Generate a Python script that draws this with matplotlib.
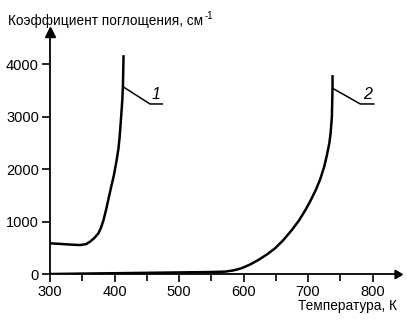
import matplotlib.pyplot as plt

plt.rcParams['font.family'] = ['Liberation Sans', 'DejaVu Sans']

# curve 1
t1 = [300, 320, 335, 347, 356, 362, 369, 375, 379, 383, 387, 391, 395, 399, 403, 406, 408, 410, 412, 413, 414]
k1 = [585, 570, 558, 552, 570, 615, 690, 775, 880, 1030, 1230, 1450, 1670, 1880, 2150, 2380, 2620, 2950, 3300, 3570, 4170]
# curve 2
t2 = [300, 400, 500, 550, 571, 585, 597, 610, 623, 636, 649, 662, 675, 686, 696, 704, 712, 719, 725, 729, 733, 735, 737, 738, 738]
k2 = [0, 15, 30, 38, 45, 70, 110, 180, 267, 370, 490, 650, 840, 1020, 1220, 1400, 1600, 1810, 2040, 2250, 2490, 2680, 3000, 3540, 3790]

xticks = [300, 400, 500, 600, 700, 800]
yticks = [0, 1000, 2000, 3000, 4000]

fig = plt.figure(figsize=(4.07, 3.23), dpi=100)
ax = fig.add_axes([0.1229, 0.1517, 0.8526, 0.749])
ax.set_xlim(300, 838)
ax.set_ylim(0, 4610)

ax.plot(t1, k1, color='black', lw=1.8, solid_capstyle='butt', solid_joinstyle='round')
ax.plot(t2, k2, color='black', lw=1.8, solid_capstyle='butt', solid_joinstyle='round')

# callouts
ax.plot([413, 455, 474], [3570, 3240, 3240], color='black', lw=1.1)
ax.text(464, 3280, '1', fontsize=11.5, style='italic', ha='center', va='bottom')
ax.plot([738, 781, 802], [3540, 3240, 3240], color='black', lw=1.1)
ax.text(792, 3280, '2', fontsize=11.5, style='italic', ha='center', va='bottom')

for s in ['top', 'right']:
    ax.spines[s].set_visible(False)
for s in ['left', 'bottom']:
    ax.spines[s].set_linewidth(1.3)

ax.set_xticks(xticks)
ax.set_xticks([350, 450, 550, 650, 750], minor=True)
ax.set_yticks(yticks)
ax.tick_params(axis='both', which='both', direction='out', width=1.2, labelsize=10.5, pad=2)
ax.tick_params(axis='x', which='major', length=6)
ax.tick_params(axis='x', which='minor', length=5)
ax.tick_params(axis='y', length=6)

# arrows
ax.plot(1, 0, marker=(3, 0, -90), ms=7, color='black', transform=ax.transAxes, clip_on=False)
ax.plot(0, 1, marker='^', ms=7, color='black', transform=ax.transAxes, clip_on=False)

title = fig.text(0.02, 0.935, 'Коэффициент поглощения, см', fontsize=9.8, ha='left', va='center')
fig.canvas.draw()
bb = title.get_window_extent().transformed(fig.transFigure.inverted())
fig.text(bb.x1 + 0.002, 0.95, '-1', fontsize=7, ha='left', va='center')
fig.text(0.976, 0.053, 'Температура, К', fontsize=9.8, ha='right', va='center')

fig.savefig('out.png', dpi=100)
